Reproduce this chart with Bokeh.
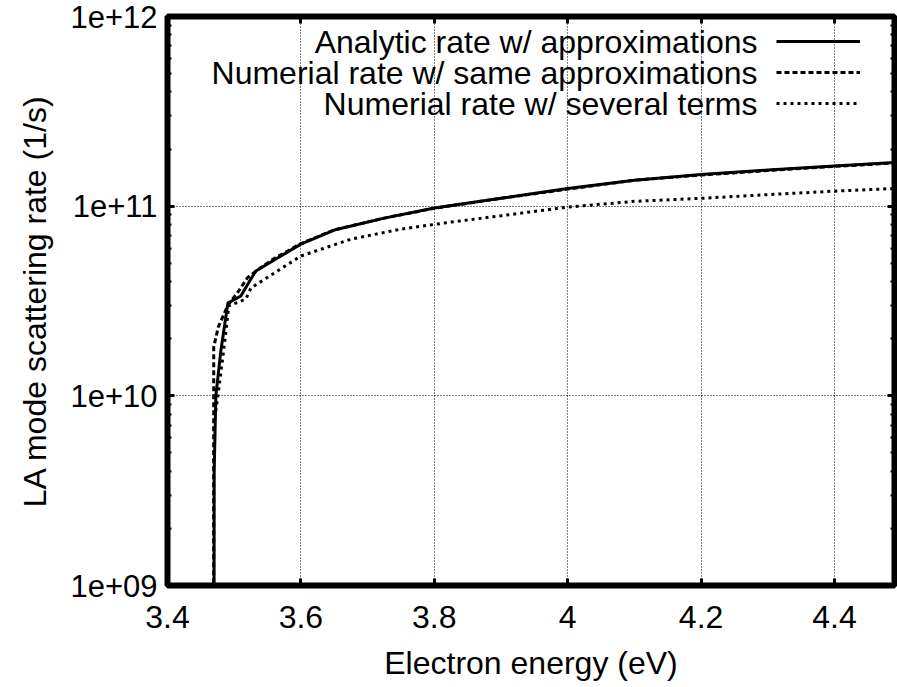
from bokeh.plotting import figure
from bokeh.models import (LogAxis, LinearAxis, FixedTicker, CustomJSTickFormatter,
                          Legend, LegendItem, Label, Range1d)
from bokeh.embed import file_html
from bokeh.resources import INLINE

# ---------------- data ----------------
energy_analytic = [3.4695, 3.4700, 3.4725, 3.4800, 3.4905, 3.5100, 3.5250, 3.5325, 3.5600,
                   3.6000, 3.6500, 3.7250, 3.8000, 3.9000, 4.0000, 4.1000, 4.2000, 4.3000,
                   4.4000, 4.4900]
rate_analytic = [1e8, 4.0e9, 1.0e10, 1.73e10, 3.08e10, 3.36e10, 4.13e10, 4.55e10, 5.2e10,
                 6.31e10, 7.48e10, 8.65e10, 9.77e10, 1.10e11, 1.24e11, 1.37e11, 1.47e11,
                 1.55e11, 1.63e11, 1.70e11]

energy_same = [3.4690, 3.4693, 3.4760, 3.4905, 3.5050, 3.5200, 3.5400, 3.5600, 3.6000,
               3.6500, 3.7250, 3.8000, 3.9000, 4.0000, 4.1000, 4.2000, 4.3000, 4.4000, 4.4900]
rate_same = [1e8, 1.8e10, 2.3e10, 3.0e10, 3.5e10, 4.2e10, 4.75e10, 5.3e10, 6.35e10,
             7.5e10, 8.65e10, 9.75e10, 1.10e11, 1.23e11, 1.37e11, 1.46e11, 1.54e11,
             1.62e11, 1.69e11]

energy_several = [3.4725, 3.4830, 3.4920, 3.5175, 3.5250, 3.5600, 3.6000, 3.6750, 3.7500,
                  3.8250, 3.9000, 4.0000, 4.1000, 4.2000, 4.3000, 4.4000, 4.4900]
rate_several = [8.3e9, 1.6e10, 2.98e10, 3.24e10, 3.7e10, 4.44e10, 5.46e10, 6.7e10, 7.57e10,
                8.24e10, 8.9e10, 9.89e10, 1.06e11, 1.10e11, 1.15e11, 1.20e11, 1.24e11]

series_labels = ["Analytic rate w/ approximations",
                 "Numerial rate w/ same approximations",
                 "Numerial rate w/ several terms"]

x_ticks = [3.4, 3.6, 3.8, 4.0, 4.2, 4.4]
x_tick_labels = ["3.4", "3.6", "3.8", "4", "4.2", "4.4"]
y_ticks = [1e9, 1e10, 1e11, 1e12]
y_tick_labels = ["1e+09", "1e+10", "1e+11", "1e+12"]

FONT = "Liberation Sans"
FS = "32px"

p = figure(width=897, height=687, y_axis_type="log",
           x_range=Range1d(3.4, 4.49), y_range=Range1d(1e9, 1e12),
           output_backend="svg", toolbar_location=None,
           min_border_left=167, min_border_right=3, min_border_top=16, min_border_bottom=102,
           x_axis_label="Electron energy (eV)",
           y_axis_label="LA mode scattering rate (1/s)")
p.background_fill_color = "white"
p.border_fill_color = "white"
p.outline_line_color = "black"
p.outline_line_width = 6

label_fmt = lambda labels: CustomJSTickFormatter(args=dict(labels=labels),
                                                  code="return labels[index];")
blank_fmt = CustomJSTickFormatter(code='return "";')

minor_y = [m * 10 ** e for e in range(9, 12) for m in range(2, 10)]

def style_axis(ax, show_labels):
    ax.axis_line_color = None
    ax.major_tick_in = 7
    ax.major_tick_out = 0
    ax.major_tick_line_width = 3
    ax.major_tick_line_color = "black"
    ax.minor_tick_in = 4
    ax.minor_tick_out = 0
    ax.minor_tick_line_width = 2
    ax.major_label_text_font = FONT
    ax.major_label_text_font_size = FS if show_labels else "0px"
    ax.major_label_text_color = "black"
    ax.axis_label_text_font = FONT
    ax.axis_label_text_font_size = FS
    ax.axis_label_text_font_style = "normal"
    ax.axis_label_text_color = "black"

# bottom x axis
xa = p.xaxis[0]
xa.ticker = FixedTicker(ticks=x_ticks)
xa.formatter = label_fmt(x_tick_labels)
style_axis(xa, True)
xa.minor_tick_in = 0
xa.major_label_standoff = 20
xa.axis_label_standoff = 14

# left y axis
ya = p.yaxis[0]
ya.ticker = FixedTicker(ticks=y_ticks, minor_ticks=minor_y)
ya.formatter = label_fmt(y_tick_labels)
style_axis(ya, True)
ya.major_label_text_font_size = "31px"
ya.major_label_standoff = 10
ya.axis_label_standoff = 14

# mirrored axes (ticks only)
xt = LinearAxis(ticker=FixedTicker(ticks=x_ticks), formatter=blank_fmt)
style_axis(xt, False)
xt.minor_tick_in = 0
xt.major_label_standoff = 0
p.add_layout(xt, "above")
yr = LogAxis(ticker=FixedTicker(ticks=y_ticks, minor_ticks=minor_y), formatter=blank_fmt)
style_axis(yr, False)
yr.major_label_standoff = 0
p.add_layout(yr, "right")

# grid
p.xgrid.ticker = FixedTicker(ticks=x_ticks)
p.ygrid.ticker = FixedTicker(ticks=y_ticks)
for g in (p.xgrid[0], p.ygrid[0]):
    g.grid_line_color = "black"
    g.grid_line_width = 1
    g.grid_line_dash = "1 2"
p.ygrid.minor_grid_line_color = None

# data lines
r1 = p.line(energy_analytic, rate_analytic, line_color="black", line_width=3)
r2 = p.line(energy_same, rate_same, line_color="black", line_width=3, line_dash="5 3")
r3 = p.line(energy_several, rate_several, line_color="black", line_width=3, line_dash="3 4")

# legend: samples on the right, texts right-aligned on their left
legend = Legend(items=[LegendItem(label=" ", renderers=[r]) for r in (r1, r2, r3)],
                location=(609, 467), glyph_width=84, glyph_height=30,
                label_width=0, label_height=0, label_standoff=0,
                label_text_font_size="1px", spacing=1, padding=0, margin=0,
                border_line_alpha=0, background_fill_alpha=0)
p.add_layout(legend)

for i, txt in enumerate(series_labels):
    p.add_layout(Label(x=590, y=544 - 31 * i, x_units="screen", y_units="screen",
                       text=txt, text_align="right", text_baseline="middle",
                       text_font=FONT, text_font_size=FS, text_color="black"))

open("out.html", "w").write(file_html(p, INLINE))
